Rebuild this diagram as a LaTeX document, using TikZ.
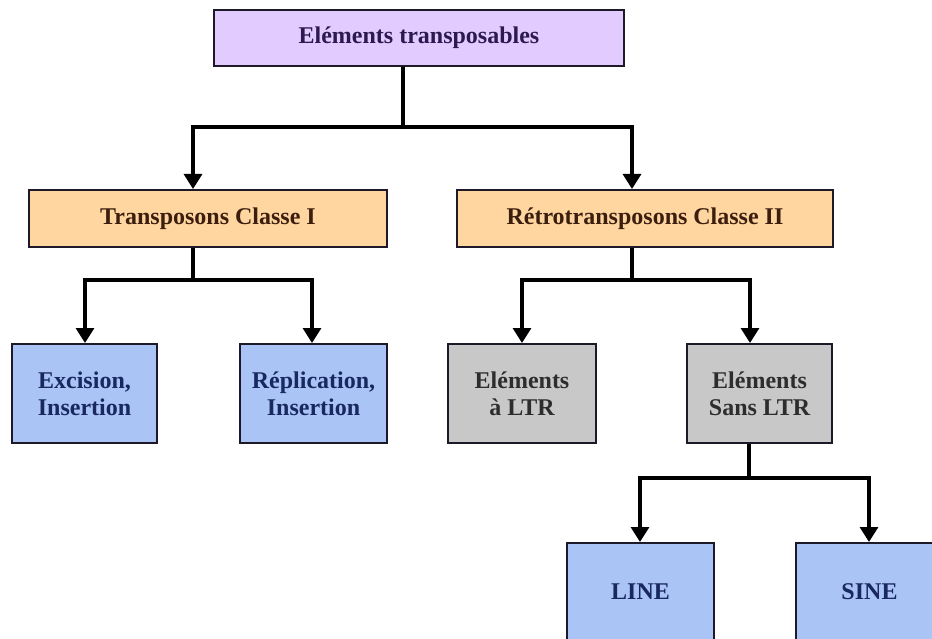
\documentclass[tikz,border=0pt]{standalone}
\usepackage{fontspec}
\setmainfont{Liberation Serif}
\usetikzlibrary{arrows.meta}
\definecolor{lav}{RGB}{226,204,255}
\definecolor{peach}{RGB}{255,214,160}
\definecolor{bluebox}{RGB}{170,196,246}
\definecolor{graybox}{RGB}{200,200,200}
\definecolor{edgec}{RGB}{30,25,40}
\definecolor{txtpurple}{RGB}{45,25,80}
\definecolor{txtbrown}{RGB}{60,30,15}
\definecolor{txtnavy}{RGB}{25,40,95}
\definecolor{txtgray}{RGB}{45,45,45}
\tikzset{
  boxbase/.style={draw=edgec, line width=2pt, inner sep=0pt, align=center,
    font=\fontsize{24}{27}\selectfont\bfseries},
  topbox/.style={boxbase, fill=lav, text=txtpurple, minimum width=410pt, minimum height=56pt},
  classbox/.style={boxbase, fill=peach, text=txtbrown, minimum height=57pt},
  leafblue/.style={boxbase, fill=bluebox, text=txtnavy, minimum height=99pt},
  leafgray/.style={boxbase, fill=graybox, text=txtgray, minimum height=99pt},
  link/.style={line width=3.2pt, draw=black},
  arr/.style={link, -{Triangle[width=18pt,length=15pt]}}
}
\begin{document}
\begin{tikzpicture}[x=1pt,y=-1pt]
\useasboundingbox[fill=white] (0,0) rectangle (932,639);
\clip (0,0) rectangle (932,639);
% nodes
\node[topbox] (top) at (419,38) {Eléments transposables};
\node[classbox, minimum width=358pt] (c1) at (208,218.5) {Transposons Classe I};
\node[classbox, minimum width=376pt] (c2) at (645,218.5) {Rétrotransposons Classe II};
\node[leafblue, minimum width=145pt] (exc) at (84.5,393.5) {Excision,\\Insertion};
\node[leafblue, minimum width=147pt] (rep) at (313.5,393.5) {Réplication,\\Insertion};
\node[leafgray, minimum width=148pt] (ltr) at (522,393.5) {Eléments\\à LTR};
\node[leafgray, minimum width=145pt] (sans) at (759.5,393.5) {Eléments\\Sans LTR};
\node[leafblue, minimum width=147pt, minimum height=98pt] (line) at (640.5,592) {LINE};
\node[leafblue, minimum width=147pt, minimum height=98pt] (sine) at (869.5,592) {SINE};
% junctions
\coordinate (j0) at (403,127);
\coordinate (j1) at (193,280);
\coordinate (j2) at (632,280);
\coordinate (j3) at (749,478);
% connectors
\draw[link] (top.south -| j0) -- (j0);
\draw[arr] (j0) -| (c1.north -| j1);
\draw[arr] (j0) -| (c2.north -| j2);
\draw[link] (c1.south -| j1) -- (j1);
\draw[arr] (j1) -| (exc.north -| 85,0);
\draw[arr] (j1) -| (rep.north -| 312,0);
\draw[link] (c2.south -| j2) -- (j2);
\draw[arr] (j2) -| (ltr.north -| 522,0);
\draw[arr] (j2) -| (sans.north -| 750,0);
\draw[link] (sans.south -| j3) -- (j3);
\draw[arr] (j3) -| (line.north -| 640,0);
\draw[arr] (j3) -| (sine.north -| 869,0);
\end{tikzpicture}
\end{document}
